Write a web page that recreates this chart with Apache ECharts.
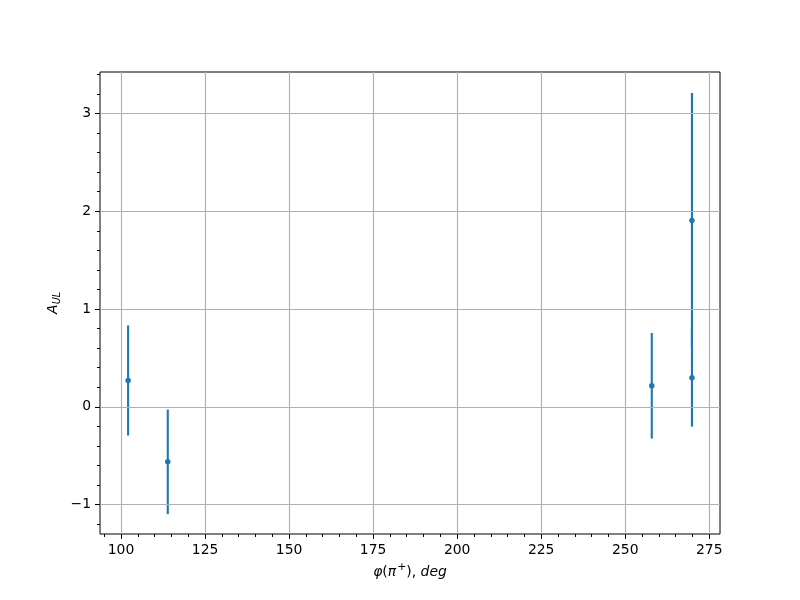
<!DOCTYPE html>
<html>
<head>
<meta charset="utf-8">
<script src="https://cdn.jsdelivr.net/npm/echarts@6/dist/echarts.min.js"></script>
<style>html,body{margin:0;padding:0;background:#fff;}#c{width:800px;height:600px;}</style>
</head>
<body>
<div id="c"></div>
<script>
// Data
const phi = [102.1, 113.9, 257.9, 269.85, 269.85];
const aul = [0.269, -0.563, 0.215, 1.904, 0.297];
const err = [0.563, 0.535, 0.54, 1.305, 0.5];
const xTicks = [100, 125, 150, 175, 200, 225, 250, 275];
const yTicks = [-1, 0, 1, 2, 3];
const xMinor = [95,105,110,115,120,130,135,140,145,155,160,165,170,180,185,190,195,205,210,215,220,230,235,240,245,255,260,265,270];
const yMinor = [-1.2,-0.8,-0.6,-0.4,-0.2,0.2,0.4,0.6,0.8,1.2,1.4,1.6,1.8,2.2,2.4,2.6,2.8,3.2,3.4];

const color = '#1f77b4';
const font = 'DejaVu Sans';
const X_MIN = 93.74, X_MAX = 278.2, Y_MIN = -1.301, Y_MAX = 3.424;

const points = phi.map((x, i) => [x, aul[i]]);
const bars = phi.map((x, i) => [x, aul[i], err[i]]);

const chart = echarts.init(document.getElementById('c'));
chart.setOption({
  animation: false,
  backgroundColor: '#fff',
  grid: { left: 100, top: 72, width: 620, height: 462, show: true, borderColor: '#000', borderWidth: 1, backgroundColor: 'transparent', z: 0 },
  xAxis: [
    {
      type: 'value', min: X_MIN, max: X_MAX, position: 'bottom',
      axisLine: { show: false, onZero: false },
      axisTick: { show: true, length: 5, inside: false, customValues: xTicks, lineStyle: { color: '#000', width: 1 } },
      axisLabel: { show: true, customValues: xTicks, margin: 9, color: '#000', fontFamily: font, fontSize: 13.9 },
      splitLine: { show: false }
    },
    {
      type: 'value', min: X_MIN, max: X_MAX, position: 'bottom', offset: 0,
      axisLine: { show: false, onZero: false },
      axisTick: { show: true, length: 3, customValues: xMinor, lineStyle: { color: '#000', width: 1 } },
      axisLabel: { show: false },
      splitLine: { show: false }
    }
  ],
  yAxis: [
    {
      type: 'value', min: Y_MIN, max: Y_MAX, position: 'left',
      axisLine: { show: false, onZero: false },
      axisTick: { show: true, length: 5, customValues: yTicks, lineStyle: { color: '#000', width: 1 } },
      axisLabel: { show: true, customValues: yTicks, margin: 9, color: '#000', fontFamily: font, fontSize: 13.9,
        formatter: v => (v < 0 ? '\u2212' + Math.abs(v) : String(v)) },
      splitLine: { show: false }
    },
    {
      type: 'value', min: Y_MIN, max: Y_MAX, position: 'left', offset: 0,
      axisLine: { show: false, onZero: false },
      axisTick: { show: true, length: 3, customValues: yMinor, lineStyle: { color: '#000', width: 1 } },
      axisLabel: { show: false },
      splitLine: { show: false }
    }
  ],
  graphic: [
    {
      type: 'text', x: 410, y: 572,
      style: {
        text: '{i|φ}{r|(}{i|π}{s|+}{r|),}{i| deg}',
        align: 'center', verticalAlign: 'middle', fill: '#000',
        rich: {
          i: { fontFamily: font, fontStyle: 'italic', fontSize: 13.9, lineHeight: 20, fill: '#000' },
          r: { fontFamily: font, fontSize: 13.9, lineHeight: 20, fill: '#000' },
          s: { fontFamily: font, fontSize: 11, lineHeight: 20, verticalAlign: 'top', fill: '#000', padding: [0, 0, 0, 1] }
        }
      }
    },
    {
      type: 'group', x: 53, y: 303, rotation: Math.PI / 2,
      children: [
        { type: 'text', x: -11, y: 0,
          style: { text: 'A', font: 'italic 13.9px "DejaVu Sans"', fill: '#000', align: 'left', verticalAlign: 'middle' } },
        { type: 'text', x: -1.3, y: 4,
          style: { text: 'UL', font: 'italic 9.7px "DejaVu Sans"', fill: '#000', align: 'left', verticalAlign: 'middle' } }
      ]
    }
  ],
  series: [
    {
      type: 'line', xAxisIndex: 0, yAxisIndex: 0, data: [], silent: true,
      markLine: {
        silent: true, symbol: 'none', label: { show: false },
        lineStyle: { color: '#b0b0b0', width: 1.1, type: 'solid' },
        data: xTicks.map(v => ({ xAxis: v })).concat(yTicks.map(v => ({ yAxis: v })))
      },
      z: 1
    },
    {
      type: 'custom', xAxisIndex: 0, yAxisIndex: 0, data: bars, z: 3,
      renderItem: function (params, api) {
        const x = api.value(0), y = api.value(1), e = api.value(2);
        const top = api.coord([x, y + e]);
        const bot = api.coord([x, y - e]);
        return {
          type: 'line',
          shape: { x1: top[0], y1: top[1], x2: bot[0], y2: bot[1] },
          style: { stroke: color, lineWidth: 2.1 }
        };
      }
    },
    {
      type: 'scatter', xAxisIndex: 0, yAxisIndex: 0, data: points, symbol: 'circle', symbolSize: 5.5,
      itemStyle: { color: color, opacity: 1 }, z: 4
    }
  ]
});
</script>
</body>
</html>
